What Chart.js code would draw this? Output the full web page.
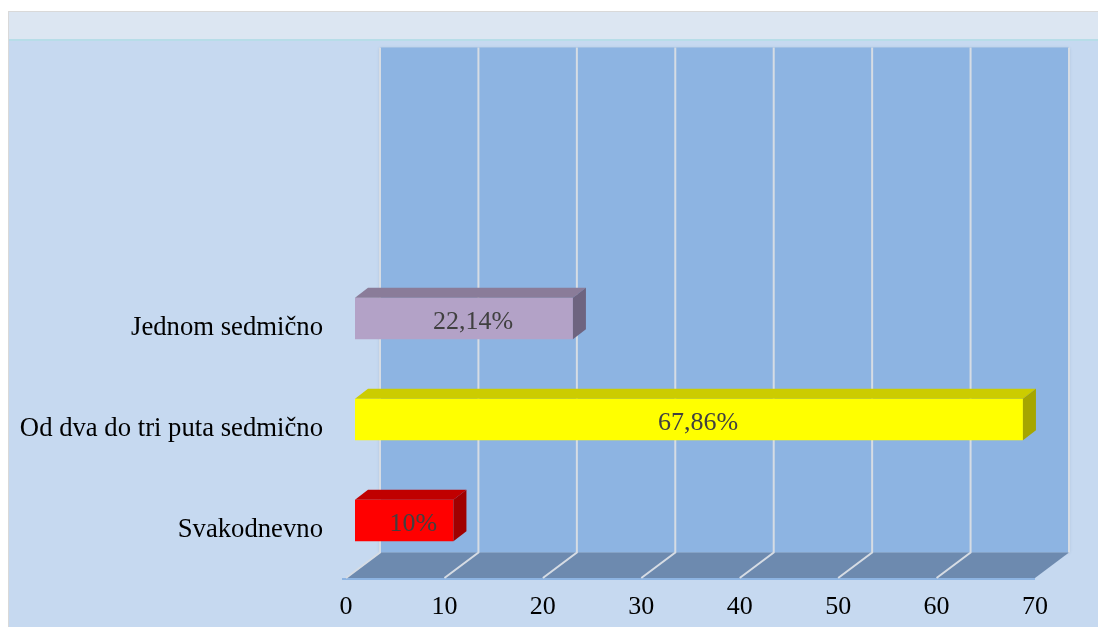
<!DOCTYPE html>
<html>
<head>
<meta charset="utf-8">
<script src="https://cdn.jsdelivr.net/npm/chart.js@4/dist/chart.umd.min.js"></script>
<style>
  html, body { margin: 0; padding: 0; background: #ffffff; }
  canvas { display: block; }
</style>
</head>
<body>
<canvas id="chart" width="1098" height="627"></canvas>
<script>
// Categories from bottom to top (the two top slots are left empty)
const categories = ["Svakodnevno", "Od dva do tri puta sedmično", "Jednom sedmično", "", ""];
const shares = [10, 67.86, 22.14, null, null];
const valueLabels = ["10%", "67,86%", "22,14%", "", ""];
const xTickValues = [0, 10, 20, 30, 40, 50, 60, 70];

// Face colours of each bar: front, top, side
const frontColors = ["#FF0000", "#FFFF00", "#B3A2C7", "#000", "#000"];
const topColors   = ["#C00000", "#CCCC00", "#8A7C99", "#000", "#000"];
const sideColors  = ["#A00000", "#A6A600", "#6E6480", "#000", "#000"];

// Depth of the 3D box relative to the bar plane
const BACK = { dx: 25, dy: -18.5 };
const FRONT = { dx: -9, dy: 7 };
const BAR_DEPTH = { dx: 13, dy: -10 };

const FONT = "'Liberation Serif', 'Times New Roman', serif";

const box3d = {
  id: 'box3d',
  beforeDraw(chart) {
    const ctx = chart.ctx;
    ctx.save();
    ctx.fillStyle = '#ffffff';
    ctx.fillRect(0, 0, chart.width, chart.height);
    // panel
    ctx.fillStyle = '#D9D9D9';
    ctx.fillRect(8, 11, chart.width - 8, chart.height - 11);
    ctx.fillStyle = '#DCE6F2';
    ctx.fillRect(9, 12, chart.width - 9, 28);
    ctx.fillStyle = '#B7DDE8';
    ctx.fillRect(9, 39, chart.width - 9, 2);
    ctx.fillStyle = '#C6D9F0';
    ctx.fillRect(9, 41, chart.width - 9, chart.height - 41);
    ctx.restore();
  },
  beforeDatasetsDraw(chart) {
    const ctx = chart.ctx;
    const xs = chart.scales.x;
    const area = chart.chartArea;
    const x0 = xs.getPixelForValue(xTickValues[0]);
    const x1 = xs.getPixelForValue(xTickValues[xTickValues.length - 1]);
    const wallTop = area.top + BACK.dy;
    const wallBottom = area.bottom + BACK.dy;
    const frontY = area.bottom + FRONT.dy;
    ctx.save();
    // back wall
    ctx.shadowColor = 'rgba(80,100,130,0.35)';
    ctx.shadowBlur = 3;
    ctx.fillStyle = '#8DB4E2';
    ctx.fillRect(x0 + BACK.dx, wallTop, x1 - x0, wallBottom - wallTop);
    ctx.shadowBlur = 0;
    ctx.shadowColor = 'transparent';
    // floor
    ctx.fillStyle = '#6D8AAF';
    ctx.beginPath();
    ctx.moveTo(x0 + BACK.dx, wallBottom);
    ctx.lineTo(x1 + BACK.dx, wallBottom);
    ctx.lineTo(x1 + FRONT.dx, frontY);
    ctx.lineTo(x0 + FRONT.dx, frontY);
    ctx.closePath();
    ctx.fill();
    // floor front edge
    ctx.strokeStyle = '#8DB4E2';
    ctx.lineWidth = 2;
    ctx.beginPath();
    ctx.moveTo(x0 + FRONT.dx - 4, frontY + 1);
    ctx.lineTo(x1 + FRONT.dx, frontY + 1);
    ctx.stroke();
    // grid lines on wall and floor
    ctx.strokeStyle = '#D6DCE4';
    ctx.lineWidth = 2;
    xTickValues.forEach(v => {
      const px = xs.getPixelForValue(v);
      ctx.beginPath();
      ctx.moveTo(px + BACK.dx, wallTop);
      ctx.lineTo(px + BACK.dx, wallBottom);
      if (v !== xTickValues[xTickValues.length - 1]) {
        ctx.lineTo(px + FRONT.dx, frontY);
      }
      ctx.stroke();
    });
    ctx.restore();
  },
  afterDatasetsDraw(chart) {
    const ctx = chart.ctx;
    const meta = chart.getDatasetMeta(0);
    ctx.save();
    meta.data.forEach((bar, i) => {
      if (shares[i] == null) return;
      const p = bar.getProps(['x', 'y', 'base', 'height'], true);
      const left = Math.min(p.base, p.x);
      const right = Math.max(p.base, p.x);
      const top = p.y - p.height / 2;
      const bottom = p.y + p.height / 2;
      // top face
      ctx.fillStyle = topColors[i];
      ctx.beginPath();
      ctx.moveTo(left, top);
      ctx.lineTo(left + BAR_DEPTH.dx, top + BAR_DEPTH.dy);
      ctx.lineTo(right + BAR_DEPTH.dx, top + BAR_DEPTH.dy);
      ctx.lineTo(right, top);
      ctx.closePath();
      ctx.fill();
      // side face
      ctx.fillStyle = sideColors[i];
      ctx.beginPath();
      ctx.moveTo(right, top);
      ctx.lineTo(right + BAR_DEPTH.dx, top + BAR_DEPTH.dy);
      ctx.lineTo(right + BAR_DEPTH.dx, bottom + BAR_DEPTH.dy);
      ctx.lineTo(right, bottom);
      ctx.closePath();
      ctx.fill();
      // value label
      ctx.fillStyle = '#404040';
      ctx.font = '26px ' + FONT;
      ctx.textAlign = 'center';
      ctx.textBaseline = 'middle';
      ctx.fillText(valueLabels[i], (left + right) / 2 + 9, p.y + 4);
    });
    ctx.restore();
  }
};

Chart.defaults.font.family = FONT;
Chart.defaults.color = '#000000';

new Chart(document.getElementById('chart'), {
  type: 'bar',
  data: {
    labels: categories,
    datasets: [{
      data: shares,
      backgroundColor: frontColors,
      borderWidth: 0,
      categoryPercentage: 1,
      barPercentage: 0.41
    }]
  },
  options: {
    indexAxis: 'y',
    responsive: false,
    devicePixelRatio: 1,
    animation: false,
    layout: { padding: { left: 0, right: 54, top: 66, bottom: 0 } },
    plugins: { legend: { display: false }, tooltip: { enabled: false }, title: { display: false } },
    scales: {
      x: {
        type: 'linear',
        min: 0,
        max: 70,
        afterBuildTicks(scale) { scale.ticks = xTickValues.map(v => ({ value: v })); },
        afterFit(scale) { scale.height = 56; },
        grid: { display: false, drawTicks: false },
        border: { display: false },
        ticks: {
          font: { size: 26 },
          color: '#000000',
          padding: 21,
          labelOffset: FRONT.dx,
          maxRotation: 0,
          autoSkip: false
        }
      },
      y: {
        reverse: true,
        afterFit(scale) { scale.width = 355; },
        grid: { display: false, drawTicks: false },
        border: { display: false },
        ticks: {
          font: { size: 26.7 },
          color: '#000000',
          padding: 32,
          labelOffset: 9,
          autoSkip: false
        }
      }
    }
  },
  plugins: [box3d]
});
</script>
</body>
</html>
